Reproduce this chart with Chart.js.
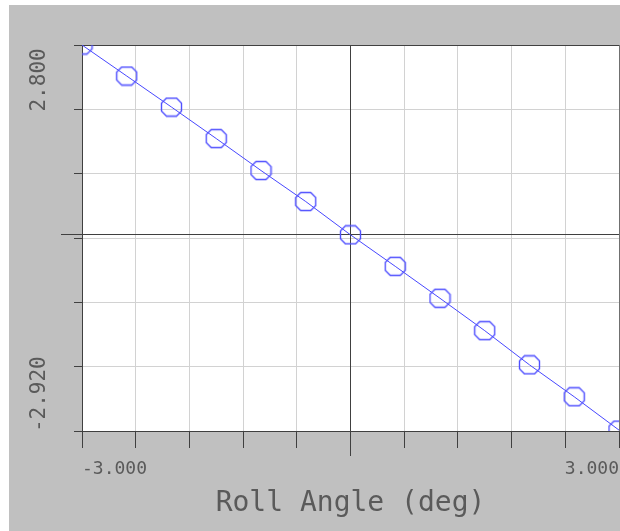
<!DOCTYPE html>
<html><head><meta charset="utf-8">
<script src="https://cdn.jsdelivr.net/npm/chart.js@4/dist/chart.umd.min.js"></script>
<style>html,body{margin:0;padding:0;background:#fff;overflow:hidden;}canvas{display:block;}</style>
</head><body>
<canvas id="c" width="620" height="531"></canvas>
<script>
// ---- data ----
const rollAngles = [-3, -2.5, -2, -1.5, -1, -0.5, 0, 0.5, 1, 1.5, 2, 2.5, 3];
const rollValues = [4.22, 3.53, 2.84, 2.14, 1.43, 0.74, 0, -0.70, -1.41, -2.13, -2.89, -3.60, -4.34];
const xGridValues = [-3, -2.4, -1.8, -1.2, -0.6, 0, 0.6, 1.2, 1.8, 2.4, 3];
const xTickLabels = ['-3.000', '', '', '', '', '', '', '', '', '', '3.000'];
const yGridValues = [4.22, 2.79, 1.36, -0.07, -1.50, -2.93, -4.36];
const yTickLabels = ['', '2.800', '', '', '', '-2.920', ''];
const xTitle = 'Roll Angle (deg)';
const xMin = -3, xMax = 3, yMin = -4.36, yMax = 4.22;

const FONT = "'DejaVu Sans Mono', 'Liberation Mono', monospace";
const TEXT = '#5a5a5a';
const DARK = '#404040';
const GRID = '#d2d2d2';

// octagon marker
const octagon = (() => {
  const c = document.createElement('canvas');
  c.width = 23; c.height = 21;
  const g = c.getContext('2d');
  g.strokeStyle = '#5050ff'; g.lineWidth = 1.4;
  const cx = 11.5, cy = 10.5;
  const pts = [[-5,-9],[5,-9],[10,-4],[10,4],[5,9],[-5,9],[-10,4],[-10,-4]];
  g.beginPath();
  pts.forEach(([x, y], i) => i ? g.lineTo(cx + x, cy + y) : g.moveTo(cx + x, cy + y));
  g.closePath(); g.stroke();
  return c;
})();

const frame = {
  id: 'frame',
  beforeDraw(chart) {
    const {ctx, chartArea: a} = chart;
    ctx.save();
    ctx.fillStyle = '#ffffff'; ctx.fillRect(0, 0, chart.width, chart.height);
    ctx.fillStyle = '#c0c0c0'; ctx.fillRect(9, 5, chart.width - 9, chart.height - 5);
    ctx.fillStyle = '#ffffff'; ctx.fillRect(a.left, a.top, a.right - a.left, a.bottom - a.top);
    ctx.restore();
  },
  beforeDatasetsDraw(chart) {
    const {ctx, chartArea: a, scales: {x, y}} = chart;
    const x0 = Math.floor(x.getPixelForValue(0)) + 0.5;
    const y0 = Math.floor(y.getPixelForValue(0)) + 0.5;
    ctx.save();
    ctx.lineWidth = 1;
    ctx.strokeStyle = DARK;
    ctx.beginPath();
    ctx.moveTo(x0, a.top); ctx.lineTo(x0, a.bottom + 25);
    ctx.moveTo(a.left - 21, y0); ctx.lineTo(a.right, y0);
    ctx.moveTo(a.left - 8, a.top + 0.5); ctx.lineTo(a.right + 1, a.top + 0.5);
    ctx.stroke();
    ctx.strokeStyle = '#707070';
    ctx.beginPath();
    ctx.moveTo(a.right + 0.5, a.top); ctx.lineTo(a.right + 0.5, a.bottom);
    ctx.stroke();
    ctx.restore();
  }
};

new Chart(document.getElementById('c'), {
  type: 'line',
  data: {
    datasets: [{
      data: rollAngles.map((v, i) => ({x: v, y: rollValues[i]})),
      borderColor: '#4848ff',
      borderWidth: 1,
      backgroundColor: 'transparent',
      pointStyle: octagon,
      pointRadius: 10,
      tension: 0,
      clip: 0
    }]
  },
  options: {
    responsive: false,
    animation: false,
    devicePixelRatio: 1,
    layout: {autoPadding: false, padding: {left: 9, top: 45, right: 1, bottom: 0}},
    plugins: {legend: {display: false}, tooltip: {enabled: false}},
    scales: {
      x: {
        type: 'linear', min: xMin, max: xMax,
        afterBuildTicks: s => { s.ticks = xGridValues.map(v => ({value: v})); },
        afterFit: s => { s.height = 100; s.paddingLeft = 0; s.paddingRight = 0; },
        grid: {color: GRID, lineWidth: 1, tickColor: DARK, tickLength: 17, drawTicks: true},
        border: {display: true, color: DARK, width: 1},
        ticks: {
          autoSkip: false, minRotation: 0, maxRotation: 0, align: 'inner', padding: 11,
          color: TEXT, font: {family: FONT, size: 18},
          callback: (v, i) => xTickLabels[i]
        },
        title: {display: true, text: xTitle, color: TEXT, font: {family: FONT, size: 28}, padding: {top: 0, bottom: 10}}
      },
      y: {
        type: 'linear', min: yMin, max: yMax,
        afterBuildTicks: s => { s.ticks = yGridValues.map(v => ({value: v})); },
        afterFit: s => { s.width = 73; s.paddingTop = 0; s.paddingBottom = 0; },
        grid: {color: GRID, lineWidth: 1, tickColor: DARK, tickLength: 8, drawTicks: true},
        border: {display: true, color: DARK, width: 1},
        ticks: {
          autoSkip: false, minRotation: 90, maxRotation: 90, crossAlign: 'near', padding: 34, labelOffset: -61,
          color: TEXT, font: {family: FONT, size: 21},
          callback: (v, i) => {
            const t = yTickLabels[i];
            return (t && yGridValues[i] < 0) ? t + '\u00a0'.repeat(4) : t;
          }
        }
      }
    }
  },
  plugins: [frame]
});
</script>
</body></html>
